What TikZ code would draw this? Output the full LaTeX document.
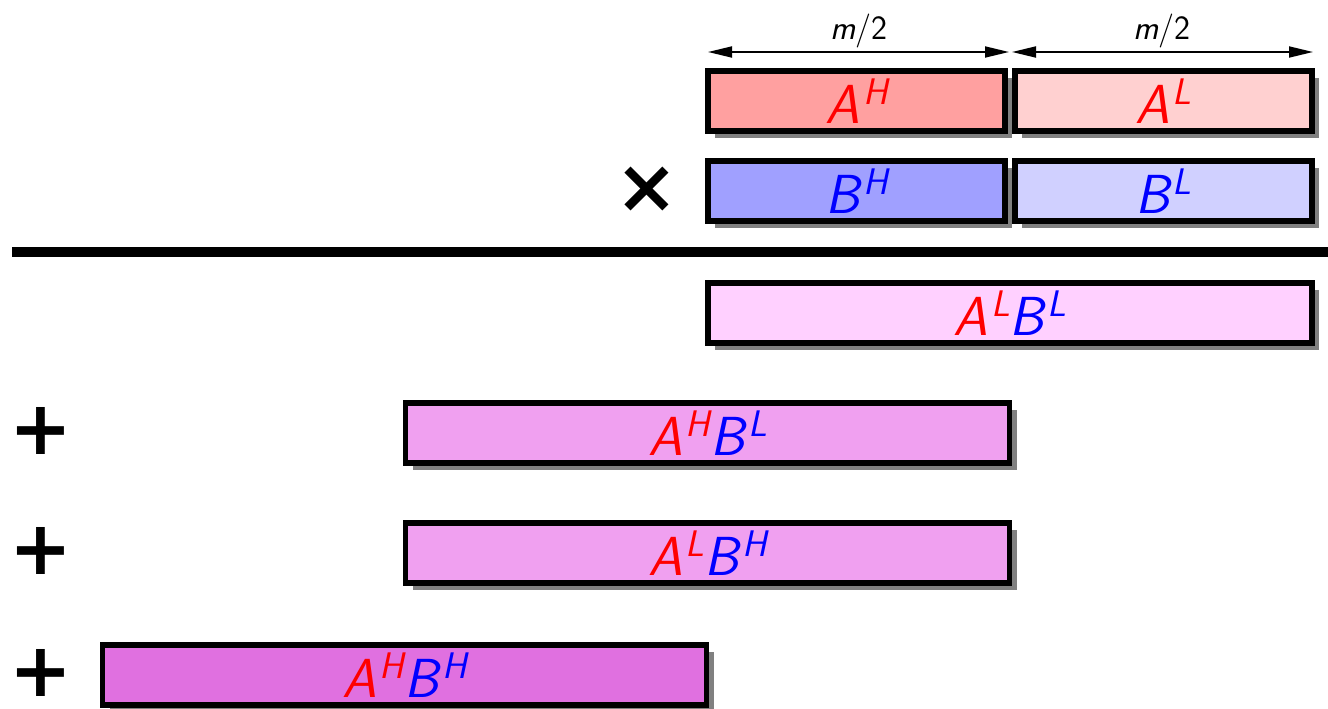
\documentclass[tikz,border=0pt]{standalone}
\usepackage{fontspec}
\usetikzlibrary{shadows,arrows.meta}
\newfontfamily\opfont{DejaVu Sans}
\definecolor{ahfill}{RGB}{255,160,160}
\definecolor{alfill}{RGB}{255,208,208}
\definecolor{bhfill}{RGB}{160,160,255}
\definecolor{blfill}{RGB}{208,208,255}
\definecolor{lofill}{RGB}{255,208,255}
\definecolor{mifill}{RGB}{240,160,240}
\definecolor{hifill}{RGB}{224,112,224}
\newcommand{\hilo}[1]{\kern0.06em\raisebox{0.35em}{\fontsize{37}{40}\selectfont #1}}
\newcommand{\pa}[1]{\textcolor{red}{A\hilo{#1}}}
\newcommand{\pb}[1]{\textcolor{blue}{B\hilo{#1}}}
\begin{document}
\begin{tikzpicture}[x=1pt,y=-1pt,
  box/.style={draw=black, line width=5.5pt, inner sep=0pt, minimum height=60pt,
    drop shadow={shadow xshift=7pt, shadow yshift=-7pt, fill=black!50, opacity=1},
    font=\fontsize{55}{60}\selectfont\sffamily\itshape},
  half/.style={box, minimum width=297pt},
  full/.style={box, minimum width=604pt},
  opsign/.style={inner sep=0pt, text height=44pt, text depth=2pt, font=\fontsize{75}{80}\selectfont\opfont\bfseries},
  dimlabel/.style={inner sep=0pt, font=\fontsize{34}{38}\selectfont\sffamily},
  dimarrow/.style={line width=1.8pt, {Triangle[length=24pt,width=11pt]}-{Triangle[length=24pt,width=11pt]}}
]
\useasboundingbox (0,0) rectangle (1328,709);
% top row
\node[half, fill=ahfill] (AH) at (856.5,101) {\pa{H}};
\node[half, fill=alfill] (AL) at (1163.5,101) {\pa{L}};
\node[half, fill=bhfill] (BH) at (856.5,191) {\pb{H}};
\node[half, fill=blfill] (BL) at (1163.5,191) {\pb{L}};
% dimension arrows
\coordinate (d1) at (708,52);
\coordinate (d2) at (1009,52);
\coordinate (d3) at (1012,52);
\coordinate (d4) at (1313,52);
\draw[dimarrow] (d1) -- (d2);
\draw[dimarrow] (d3) -- (d4);
\node[dimlabel] (m1) at (859,31) {\textit{m}/2};
\node[dimlabel] (m2) at (1162,31) {\textit{m}/2};
% times sign
\node[opsign] (times) at (646.5,191.5) {×};
% rule
\draw[line width=10pt] (12,252) -- (1328,252);
% products
\node[full, fill=lofill] (LL) at (1010,313) {\pa{L}\pb{L}};
\node[full, fill=mifill] (HL) at (707.5,433) {\pa{H}\pb{L}};
\node[full, fill=mifill] (LH) at (707.5,553) {\pa{L}\pb{H}};
\node[full, fill=hifill] (HH) at (404.5,675) {\pa{H}\pb{H}};
% plus signs
\node[opsign] (p1) at (41,433) {+};
\node[opsign] (p2) at (41,553) {+};
\node[opsign] (p3) at (41,675) {+};
\end{tikzpicture}
\end{document}
